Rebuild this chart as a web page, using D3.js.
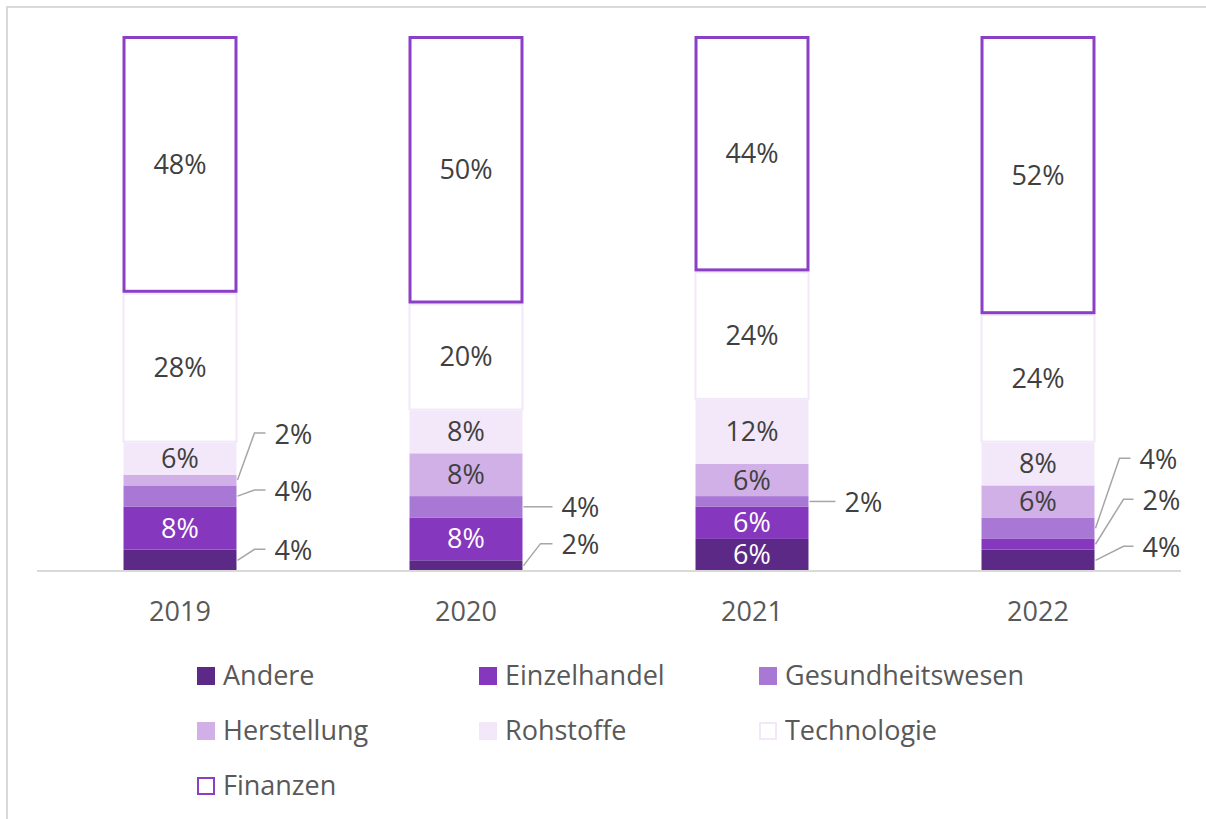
<!DOCTYPE html>
<html>
<head>
<meta charset="utf-8">
<script src="https://cdn.jsdelivr.net/npm/d3@7"></script>
<style>
  body { margin: 0; background: #ffffff; }
  text { font-family: "Open Sans", sans-serif; }
</style>
</head>
<body>
<div id="chart"></div>
<script>
let years = ["2019", "2020", "2021", "2022"];
let series = ["Andere", "Einzelhandel", "Gesundheitswesen", "Herstellung", "Rohstoffe", "Technologie", "Finanzen"];
let andere = [4, 2, 6, 4];
let einzelhandel = [8, 8, 6, 2];
let gesundheitswesen = [4, 4, 2, 4];
let herstellung = [2, 8, 6, 6];
let rohstoffe = [6, 8, 12, 8];
let technologie = [28, 20, 24, 24];
let finanzen = [48, 50, 44, 52];

// small segments get a leader line: [year, series, elbow dx, end dx, label dy]
let callouts = [
  ["2019", "Herstellung", 17, 28, -47],
  ["2019", "Gesundheitswesen", 17, 28, -6],
  ["2019", "Andere", 17, 28, -11],
  ["2020", "Gesundheitswesen", 0, 29, 0],
  ["2020", "Andere", 17, 29, -22],
  ["2021", "Gesundheitswesen", 0, 26, 0],
  ["2022", "Gesundheitswesen", 24, 35, -70],
  ["2022", "Einzelhandel", 28, 38, -45],
  ["2022", "Andere", 28, 38, -14]
];

let fills = ["#5c2a86", "#8537bd", "#a977d4", "#d0b0e7", "#f2e8f9", "#ffffff", "#ffffff"];
let strokes = ["none", "none", "none", "none", "none", "#f2e8f9", "#8b3fc6"];
let textColors = ["#ffffff", "#ffffff", "#404040", "#404040", "#404040", "#404040", "#404040"];

let width = 1206, height = 819;

let table = years.map(function(y, i) {
  return {
    year: y,
    Andere: andere[i],
    Einzelhandel: einzelhandel[i],
    Gesundheitswesen: gesundheitswesen[i],
    Herstellung: herstellung[i],
    Rohstoffe: rohstoffe[i],
    Technologie: technologie[i],
    Finanzen: finanzen[i]
  };
});

let svg = d3.select("#chart").append("svg")
  .attr("width", width)
  .attr("height", height);

svg.append("rect")
  .attr("x", 7).attr("y", 7)
  .attr("width", width).attr("height", height)
  .attr("fill", "#ffffff")
  .attr("stroke", "#d9d9d9")
  .attr("stroke-width", 2);

let x = d3.scaleBand()
  .domain(years)
  .range([37, 1181])
  .paddingInner(0.598)
  .paddingOuter(0.299);

let y = d3.scaleLinear()
  .domain([0, 100])
  .range([571, 36]);

let color = d3.scaleOrdinal().domain(series).range(fills);
let strokeColor = d3.scaleOrdinal().domain(series).range(strokes);
let textColor = d3.scaleOrdinal().domain(series).range(textColors);

let stacked = d3.stack().keys(series)(table);

let layers = svg.append("g").selectAll("g")
  .data(stacked)
  .join("g");

layers.selectAll("rect")
  .data(function(d) { return d.map(function(v) { v.key = d.key; return v; }); })
  .join("rect")
  .attr("x", function(d) { return x(d.data.year) + (d.key == "Finanzen" ? 1.5 : 1); })
  .attr("y", function(d) { return y(d[1]) + (d.key == "Finanzen" ? 1.5 : (d.key == "Technologie" ? 1 : 0)); })
  .attr("width", function(d) { return x.bandwidth() - (d.key == "Finanzen" ? 3 : 2); })
  .attr("height", function(d) {
    let h = y(d[0]) - y(d[1]);
    if (d.key == "Finanzen") return h - 3;
    if (d.key == "Technologie") return h - 2;
    return h;
  })
  .attr("fill", function(d) { return color(d.key); })
  .attr("stroke", function(d) { return strokeColor(d.key); })
  .attr("stroke-width", function(d) { return d.key == "Finanzen" ? 3 : 2; });

// axis line
svg.append("line")
  .attr("x1", x.range()[0]).attr("x2", x.range()[1])
  .attr("y1", y(0)).attr("y2", y(0))
  .attr("stroke", "#d9d9d9")
  .attr("stroke-width", 2);

// year labels
svg.append("g").selectAll("text")
  .data(years)
  .join("text")
  .attr("x", function(d) { return x(d) + x.bandwidth() / 2; })
  .attr("y", 612)
  .attr("dy", "0.35em")
  .attr("text-anchor", "middle")
  .attr("font-size", 27)
  .attr("fill", "#595959")
  .text(function(d) { return d; });

// labels inside bars
let isCallout = function(d) {
  return callouts.some(function(c) { return c[0] == d.data.year && c[1] == d.key; });
};

layers.selectAll("text")
  .data(function(d) { return d.filter(function(v) { return !isCallout(v); }); })
  .join("text")
  .attr("x", function(d) { return x(d.data.year) + x.bandwidth() / 2; })
  .attr("y", function(d) { return (y(d[0]) + y(d[1])) / 2; })
  .attr("dy", "0.35em")
  .attr("text-anchor", "middle")
  .attr("font-size", 27)
  .attr("fill", function(d) { return textColor(d.key); })
  .text(function(d) { return d.data[d.key] + "%"; });

// callouts
callouts.forEach(function(c) {
  let layer = stacked[series.indexOf(c[1])];
  let d = layer[years.indexOf(c[0])];
  let x0 = x(c[0]) + x.bandwidth();
  let y0 = (y(d[0]) + y(d[1])) / 2;
  let ly = y0 + c[4];
  let pts = c[2] > 0
    ? [[x0, y0], [x0 + c[2], ly], [x0 + c[3], ly]]
    : [[x0, y0], [x0 + c[3], ly]];
  svg.append("polyline")
    .attr("points", pts.map(function(p) { return p.join(","); }).join(" "))
    .attr("fill", "none")
    .attr("stroke", "#a6a6a6")
    .attr("stroke-width", 1.5);
  svg.append("text")
    .attr("x", x0 + c[3] + 9)
    .attr("y", ly + 1)
    .attr("dy", "0.35em")
    .attr("font-size", 27)
    .attr("fill", "#404040")
    .text(d.data[c[1]] + "%");
});

// legend
let legendCols = [197, 479, 759];
let legendRows = [676, 731, 786];

let legend = svg.append("g").selectAll("g")
  .data(series)
  .join("g")
  .attr("transform", function(d, i) {
    return "translate(" + legendCols[i % 3] + "," + legendRows[Math.floor(i / 3)] + ")";
  });

legend.append("rect")
  .attr("x", function(d) { return strokeColor(d) == "none" ? 0 : 1; })
  .attr("y", function(d) { return strokeColor(d) == "none" ? -9 : -8; })
  .attr("width", function(d) { return strokeColor(d) == "none" ? 18 : 16; })
  .attr("height", function(d) { return strokeColor(d) == "none" ? 18 : 16; })
  .attr("fill", function(d) { return color(d); })
  .attr("stroke", function(d) { return strokeColor(d); })
  .attr("stroke-width", 2);

legend.append("text")
  .attr("x", 26)
  .attr("y", 0)
  .attr("dy", "0.35em")
  .attr("font-size", 27)
  .attr("fill", "#595959")
  .text(function(d) { return d; });
</script>
</body>
</html>
